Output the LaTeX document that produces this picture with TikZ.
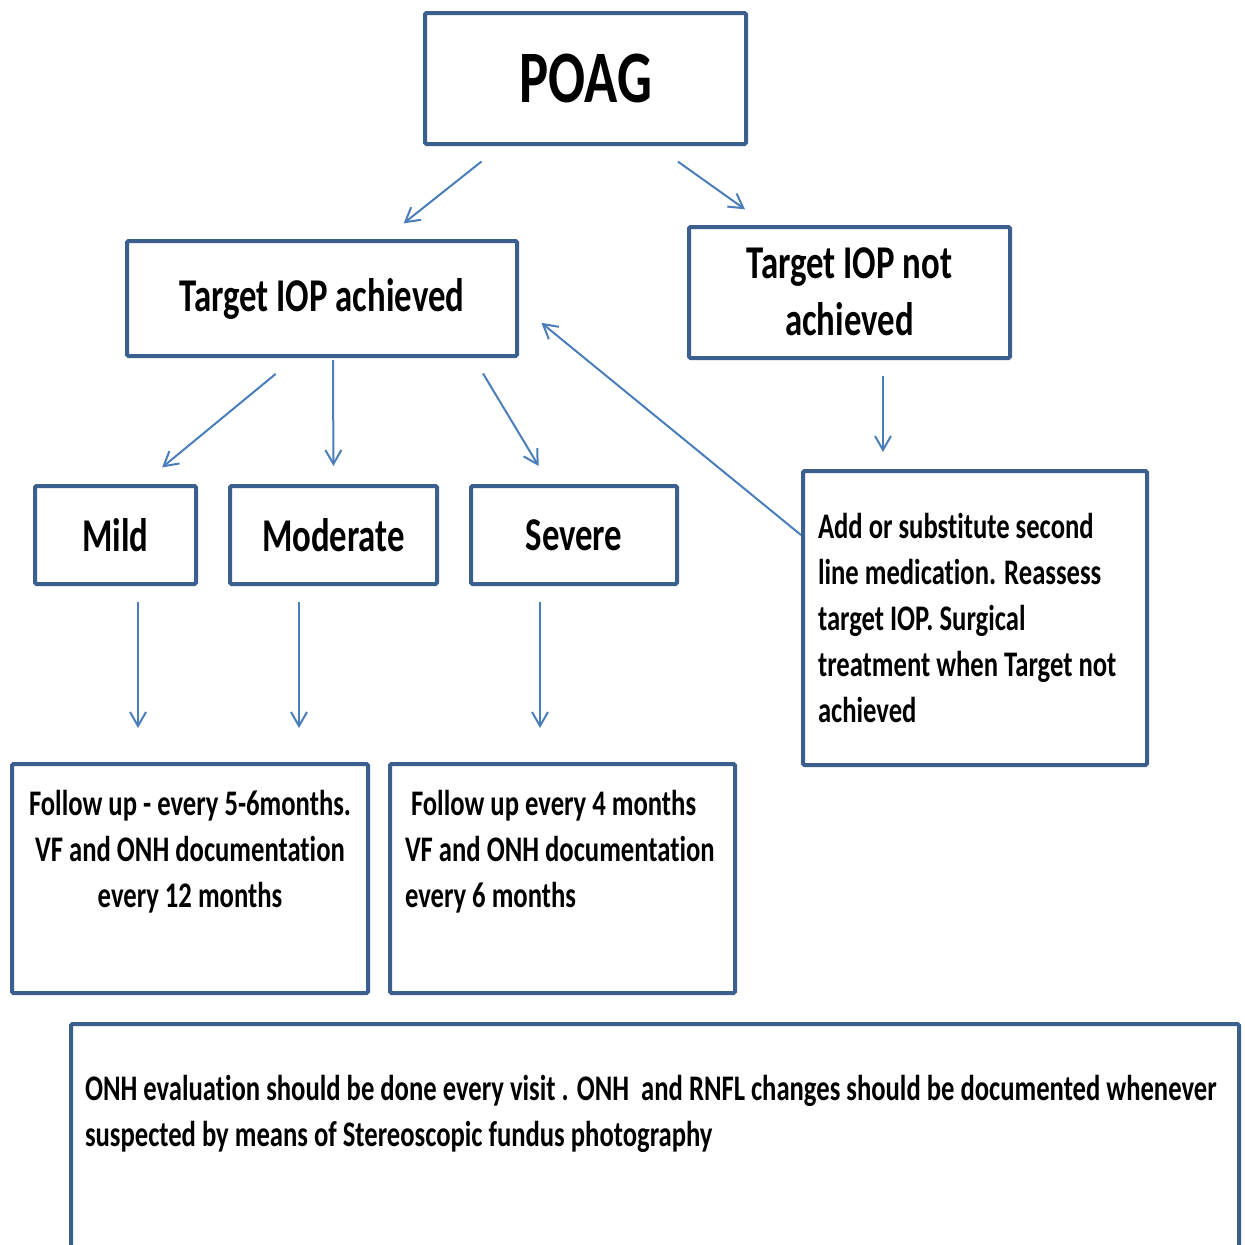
\documentclass[tikz,border=0pt]{standalone}
\usepackage{fontspec}
\setmainfont{Carlito}[FakeStretch=0.74, Ligatures=NoCommon]
\usetikzlibrary{arrows.meta, calc, positioning}
\definecolor{boxblue}{RGB}{59,95,142}
\definecolor{arrowblue}{RGB}{74,126,187}

\begin{document}
\begin{tikzpicture}[x=1pt, y=-1pt,
    box/.style={draw=boxblue, line width=4pt, rounded corners=1.5pt, inner sep=0pt},
    head/.style={box, font=\bfseries\fontsize{47}{57}\selectfont},
    body/.style={box, font=\bfseries\fontsize{36}{46}\selectfont},
    link/.style={draw=arrowblue, line width=2pt, -{Straight Barb[length=14pt, width=16pt]}}]
    \useasboundingbox (0,0) rectangle (1245,1245);
    \clip (0,0) rectangle (1245,1245);

    % top levels
    \node[box, font=\bfseries\fontsize{74}{80}\selectfont, minimum width=321, minimum height=131] (poag) at (585.5,78.5) {POAG};
    \node[head, minimum width=390, minimum height=115] (tach) at (322,298.5) {Target IOP achieved};
    \node[head, anchor=north, text width=311, inner xsep=5, align=flush center, text height=51, text depth=80] (tnot) at (849.5,225) {Target IOP not\\achieved};

    % stages
    \node[head, minimum width=161, minimum height=98] (mild) at (115.5,535) {Mild};
    \node[head, minimum width=207, minimum height=98] (moder) at (333.5,535) {Moderate};
    \node[head, minimum width=206, minimum height=98] (sev) at (574,535) {Severe};

    % text boxes
    \node[body, anchor=north, text width=314, inner xsep=15, align=flush left, text height=67, text depth=227] (addmed) at (975,469) {Add or substitute second\\line medication. Reassess\\target IOP. Surgical\\treatment when Target not\\achieved};
    \node[body, anchor=north, text width=348, inner xsep=4, align=flush center, text height=51, text depth=178] (fuone) at (190,762) {Follow up - every 5-6months.\\VF and ONH documentation\\every 12 months};
    \node[body, anchor=north, text width=315, inner xsep=15, align=flush left, text height=51, text depth=178] (futwo) at (562.5,762) {\hspace*{6pt}Follow up every 4 months\\VF and ONH documentation\\every 6 months};
    \node[body, anchor=north west, text width=1140, inner xsep=14, align=flush left, text height=76, text depth=200] (note) at (69,1022) {ONH evaluation should be done every visit . ONH\ \ and RNFL changes should be documented whenever\\suspected by means of Stereoscopic fundus photography};

    % arrows
    \draw[link, shorten <=25pt, shorten >=25pt] ($(poag.south)+(-84.5,0)$) -- ($(tach.north)+(62,0)$);
    \draw[link, shorten <=27pt, shorten >=27pt] ($(poag.south)+(70.5,0)$) -- ($(tnot.north)+(-82.5,0)$);
    \draw[link, shorten <=25pt, shorten >=26pt] ($(tach.south)+(-27,0)$) -- ($(mild.north)+(26.5,0)$);
    \draw[link, shorten <=2pt, shorten >=18pt] ($(tach.south)+(11,0)$) -- (moder.north);
    \draw[link, shorten <=18pt, shorten >=21pt] ($(tach.south)+(151.7,0)$) -- ($(sev.north)+(-24.5,0)$);
    \draw[link, shorten <=16pt, shorten >=17pt] ($(tnot.south)+(33.5,0)$) -- ($(addmed.north)+(-92,0)$);
    \draw[link, shorten >=29pt] ($(addmed.west)+(0,-83)$) -- ($(tach.east)+(0,6)$);
    \draw[link, shorten <=16pt, shorten >=34pt] ($(mild.south)+(22.5,0)$) -- ($(fuone.north)+(-52,0)$);
    \draw[link, shorten <=16pt, shorten >=34pt] ($(moder.south)+(-34.5,0)$) -- ($(fuone.north)+(109,0)$);
    \draw[link, shorten <=16pt, shorten >=34pt] ($(sev.south)+(-34,0)$) -- ($(futwo.north)+(-22.5,0)$);
\end{tikzpicture}
\end{document}
